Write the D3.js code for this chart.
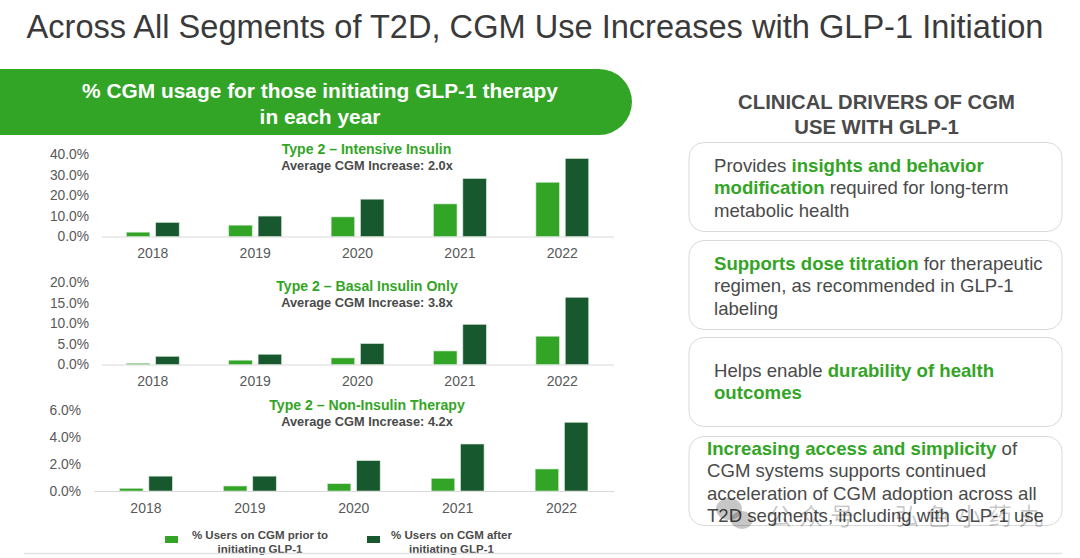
<!DOCTYPE html>
<html>
<head>
<meta charset="utf-8">
<script src="https://cdnjs.cloudflare.com/ajax/libs/d3/7.8.5/d3.min.js"></script>
<style>
html, body { margin: 0; padding: 0; background: #fff; overflow: hidden; }
text { font-family: "Liberation Sans", Arial, sans-serif; }
</style>
</head>
<body>
<svg id="chart" width="1080" height="558"></svg>
<script>
const years = ['2018', '2019', '2020', '2021', '2022'];

const intensiveBefore = [2.1, 5.5, 9.5, 15.8, 26.3];
const intensiveAfter = [6.8, 9.9, 18.1, 28.1, 37.8];
const basalBefore = [0.3, 1.05, 1.6, 3.3, 6.9];
const basalAfter = [2.0, 2.5, 5.1, 9.8, 16.4];
const nonInsulinBefore = [0.2, 0.37, 0.54, 0.94, 1.63];
const nonInsulinAfter = [1.1, 1.1, 2.25, 3.48, 5.09];

const intensiveTicks = [0, 10, 20, 30, 40];
const basalTicks = [0, 5, 10, 15, 20];
const nonInsulinTicks = [0, 2, 4, 6];

const legendLabels = [
    ['% Users on CGM prior to', 'initiating GLP-1'],
    ['% Users on CGM after', 'initiating GLP-1']
];

const driverText = [
    [[['Provides ', 0], ['insights and behavior', 1]], [['modification', 1], [' required for long-term', 0]], [['metabolic health', 0]]],
    [[['Supports dose titration', 1], [' for therapeutic', 0]], [['regimen, as recommended in GLP-1', 0]], [['labeling', 0]]],
    [[['Helps enable ', 0], ['durability of health', 1]], [['outcomes', 1]]],
    [[['Increasing access and simplicity', 1], [' of', 0]], [['CGM systems supports continued', 0]], [['acceleration of CGM adoption across all', 0]], [['T2D segments, including with GLP-1 use', 0]]]
];

const green = '#33a526';
const darkGreen = '#17582f';
const textGrey = '#4a4a4a';

const svg = d3.select('#chart');

svg.append('text')
    .attr('x', 535).attr('y', 37.5)
    .attr('text-anchor', 'middle')
    .attr('font-size', 32.6)
    .attr('fill', '#3a3a3a')
    .text('Across All Segments of T2D, CGM Use Increases with GLP-1 Initiation');

// green banner, flat on the left and round on the right
svg.append('path')
    .attr('d', 'M0,69H599a33,33 0 0 1 0,66H0Z')
    .attr('fill', green);

svg.append('text')
    .attr('text-anchor', 'middle')
    .attr('font-size', 20.9)
    .attr('font-weight', 'bold')
    .attr('fill', '#fff')
    .selectAll('tspan')
    .data(['% CGM usage for those initiating GLP-1 therapy', 'in each year'])
    .enter()
    .append('tspan')
    .attr('x', 320)
    .attr('y', (d, i) => 98 + i * 26)
    .text(d => d);

makePanel = (opts) => {
    let x = d3.scaleBand().domain(years).range([opts.left, 613.5]);
    let inner = d3.scaleBand().domain([0, 1]).range([0, 52.8]).paddingInner(0.2);
    let y = d3.scaleLinear().domain([0, opts.max]).range([opts.base, opts.top]);
    let g = svg.append('g');

    let xAxis = g.append('g')
        .attr('transform', `translate(0,${opts.base})`)
        .call(d3.axisBottom(x).tickSize(0).tickPadding(12));
    xAxis.select('.domain').attr('stroke', '#d9d9d9').attr('stroke-width', 1.2);
    xAxis.selectAll('text').attr('font-size', 14).attr('fill', '#595959')
        .attr('font-family', '"Liberation Sans", Arial, sans-serif');

    let yAxis = g.append('g')
        .attr('transform', `translate(${opts.labelX},0)`)
        .call(d3.axisLeft(y).tickValues(opts.ticks).tickSize(0).tickPadding(0)
            .tickFormat(d => d.toFixed(1) + '%'));
    yAxis.select('.domain').remove();
    yAxis.selectAll('text').attr('font-size', 13.8).attr('fill', '#595959')
        .attr('font-family', '"Liberation Sans", Arial, sans-serif');

    [opts.before, opts.after].forEach((values, s) => {
        g.append('g').selectAll('rect')
            .data(values)
            .enter()
            .append('rect')
            .attr('x', (d, i) => x(years[i]) + x.bandwidth() / 2 - 26.4 + inner(s))
            .attr('y', d => y(d))
            .attr('width', inner.bandwidth())
            .attr('height', d => opts.base - y(d))
            .attr('fill', s == 0 ? green : darkGreen)
            .attr('stroke', '#d5e6d5')
            .attr('stroke-width', 0.6);
    });

    svg.append('text')
        .attr('x', opts.titleX).attr('y', opts.titleY)
        .attr('text-anchor', 'middle')
        .attr('font-size', 14.1)
        .attr('font-weight', 'bold')
        .attr('fill', green)
        .text(opts.title);
    svg.append('text')
        .attr('x', 367).attr('y', opts.titleY + 16)
        .attr('text-anchor', 'middle')
        .attr('font-size', 12.8)
        .attr('font-weight', 'bold')
        .attr('fill', textGrey)
        .text(opts.subtitle);
}

makePanel({ before: intensiveBefore, after: intensiveAfter, ticks: intensiveTicks, max: 40,
    left: 101.6, labelX: 89, base: 236.5, top: 154, title: 'Type 2 – Intensive Insulin',
    subtitle: 'Average CGM Increase: 2.0x', titleX: 366.5, titleY: 154 });
makePanel({ before: basalBefore, after: basalAfter, ticks: basalTicks, max: 20,
    left: 101.6, labelX: 89, base: 364.5, top: 282.5, title: 'Type 2 – Basal Insulin Only',
    subtitle: 'Average CGM Increase: 3.8x', titleX: 367, titleY: 291 });
makePanel({ before: nonInsulinBefore, after: nonInsulinAfter, ticks: nonInsulinTicks, max: 6,
    left: 94, labelX: 81, base: 491, top: 410, title: 'Type 2 – Non-Insulin Therapy',
    subtitle: 'Average CGM Increase: 4.2x', titleX: 367, titleY: 410 });

// legend
[[165, 260, green], [367, 451.5, darkGreen]].forEach((d, i) => {
    svg.append('rect').attr('x', d[0]).attr('y', 536).attr('width', 13).attr('height', 7).attr('fill', d[2]);
    legendLabels[i].forEach((line, j) => {
        svg.append('text')
            .attr('x', d[1]).attr('y', 539 + j * 14)
            .attr('text-anchor', 'middle')
            .attr('font-size', 11.5)
            .attr('font-weight', 'bold')
            .attr('fill', textGrey)
            .text(line);
    });
});

// bottom rule
svg.append('line')
    .attr('x1', 24).attr('x2', 1062).attr('y1', 553.5).attr('y2', 553.5)
    .attr('stroke', '#e3e3e3').attr('stroke-width', 1.5);

// right column
svg.append('text')
    .attr('text-anchor', 'middle')
    .attr('font-size', 20.3)
    .attr('font-weight', 'bold')
    .attr('fill', textGrey)
    .selectAll('tspan')
    .data(['CLINICAL DRIVERS OF CGM', 'USE WITH GLP-1'])
    .enter()
    .append('tspan')
    .attr('x', 876.5)
    .attr('y', (d, i) => 109 + i * 25)
    .text(d => d);

const boxTops = [142.5, 240.5, 337.5, 436.5];
const textLeft = [714, 714, 714, 707];
const textTop = [172, 270, 377, 455];

driverText.forEach((lines, b) => {
    svg.append('rect')
        .attr('x', 689).attr('y', boxTops[b])
        .attr('width', 373).attr('height', 89)
        .attr('rx', 15)
        .attr('fill', '#fff')
        .attr('stroke', '#d9d9d9')
        .attr('stroke-width', 1);
    lines.forEach((parts, l) => {
        svg.append('text')
            .attr('x', textLeft[b]).attr('y', textTop[b] + l * 22.3)
            .attr('font-size', 18.6)
            .selectAll('tspan')
            .data(parts)
            .enter()
            .append('tspan')
            .style('white-space', 'pre')
            .attr('font-weight', d => d[1] ? 'bold' : 'normal')
            .attr('fill', d => d[1] ? green : textGrey)
            .text(d => d[0]);
    });
});

// watermark, the little chat logo and its two words
let mark = svg.append('g').attr('fill', '#000').attr('fill-opacity', 0.22);
mark.append('ellipse').attr('cx', 729).attr('cy', 509).attr('rx', 13).attr('ry', 11);
mark.append('ellipse').attr('cx', 742).attr('cy', 520).attr('rx', 11).attr('ry', 9);
[['公众号', 768], ['弘色小药丸', 895]].forEach(d => {
    mark.append('text')
        .attr('x', d[1]).attr('y', 525)
        .style('font-family', '"Noto Sans CJK SC"')
        .attr('font-size', 24)
        .attr('letter-spacing', 7)
        .text(d[0]);
});
</script>
</body>
</html>
